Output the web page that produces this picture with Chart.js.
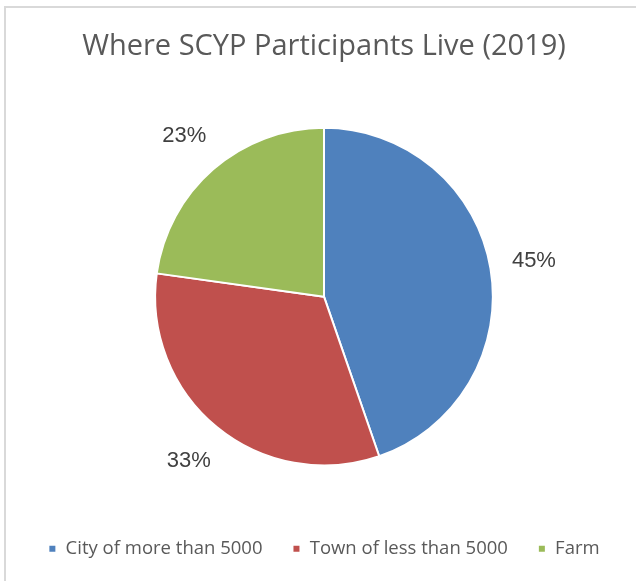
<!DOCTYPE html>
<html>
<head>
<meta charset="utf-8">
<script src="https://cdn.jsdelivr.net/npm/chart.js@4.4.1/dist/chart.umd.min.js"></script>
<style>
  html, body { margin: 0; padding: 0; background: #fff; overflow: hidden; }
  #wrap { position: relative; width: 636px; height: 581px; }
  #frame { position: absolute; left: 4px; top: 6px; width: 660px; height: 620px; border: 2px solid #d9d9d9; box-sizing: border-box; }
  #chart { position: absolute; left: 0; top: 0; }
</style>
</head>
<body>
<div id="wrap">
  <div id="frame"></div>
  <canvas id="chart" width="636" height="581"></canvas>
</div>
<script>
// Data
let chartTitle = "Where SCYP Participants Live (2019)";
let categories = ["City of more than 5000", "Town of less than 5000", "Farm"];
let shares = [44.7, 32.5, 22.8];
let sliceColors = ["#4F81BD", "#C0504D", "#9BBB59"];

// Percent labels outside each slice
const outsideLabels = {
    id: "outsideLabels",
    afterDatasetsDraw(chart) {
        let ctx = chart.ctx;
        let meta = chart.getDatasetMeta(0);
        let total = shares.reduce((a, b) => a + b, 0);
        ctx.save();
        ctx.font = "22px 'Liberation Sans', Arial, sans-serif";
        ctx.fillStyle = "#404040";
        ctx.textAlign = "center";
        ctx.textBaseline = "middle";
        meta.data.forEach((arc, i) => {
            let mid = (arc.startAngle + arc.endAngle) / 2;
            let r = arc.outerRadius + 44;
            let x = arc.x + Math.cos(mid) * r;
            let y = arc.y + Math.sin(mid) * r;
            ctx.fillText(Math.round(shares[i] / total * 100) + "%", x, y);
        });
        ctx.restore();
    }
};

let ctx = document.getElementById("chart").getContext("2d");
new Chart(ctx, {
    type: "pie",
    data: {
        labels: categories,
        datasets: [{
            data: shares,
            backgroundColor: sliceColors,
            borderColor: "#ffffff",
            borderWidth: 2
        }]
    },
    options: {
        responsive: false,
        animation: false,
        layout: { padding: { top: 0, bottom: 13, left: 12, right: 0 } },
        plugins: {
            title: {
                display: true,
                text: chartTitle,
                color: "#595959",
                font: { family: "'Open Sans', sans-serif", size: 29, weight: "normal" },
                padding: { top: 29, bottom: 63 }
            },
            legend: {
                position: "bottom",
                // empty title used as a spacer above the items
                title: { display: true, text: "", font: { size: 1, lineHeight: 1 }, padding: { top: 42, bottom: 0 } },
                labels: {
                    color: "#595959",
                    font: { family: "'Open Sans', sans-serif", size: 18.5 },
                    boxWidth: 8,
                    boxHeight: 8,
                    padding: 30
                }
            },
            tooltip: { enabled: false }
        }
    },
    plugins: [outsideLabels]
});
</script>
</body>
</html>
